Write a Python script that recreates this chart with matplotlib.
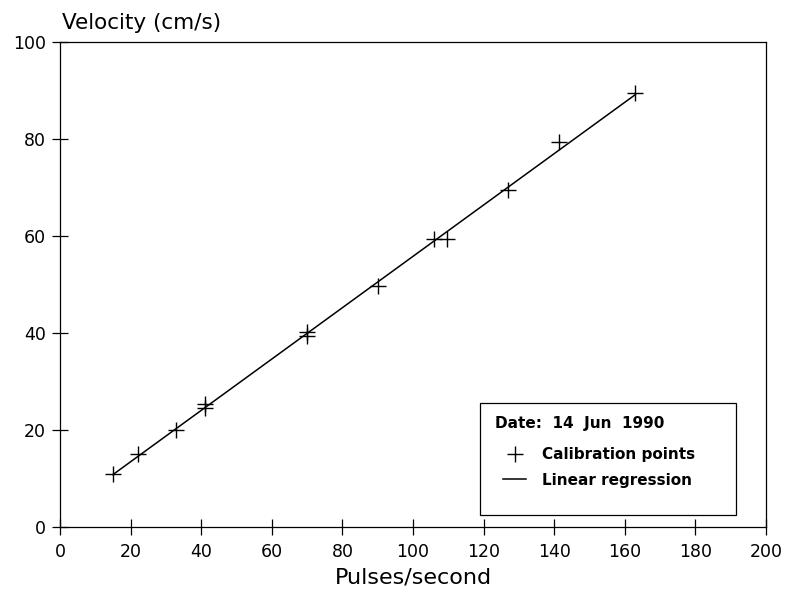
import numpy as np
import matplotlib
matplotlib.use('Agg')
import matplotlib.pyplot as plt
from matplotlib.patches import Rectangle

plt.rcParams['font.family'] = ['DejaVu Sans']

# calibration points
pulses = [15, 22, 33, 41, 41, 70, 70, 90, 106, 109.5, 127, 141.5, 163]
velocity = [11, 15, 20, 24.5, 25.3, 39.3, 40.2, 49.7, 59.4, 59.4, 69.4, 79.4, 89.4]
x_ticks = [0, 20, 40, 60, 80, 100, 120, 140, 160, 180, 200]
y_ticks = [0, 20, 40, 60, 80, 100]

# linear regression through the points
slope, intercept = np.polyfit(pulses, velocity, 1)
fit_x = np.array([min(pulses), max(pulses)])
fit_y = slope * fit_x + intercept

fig = plt.figure(figsize=(7.85, 5.95), dpi=100)
ax = fig.add_axes([60 / 785, 68 / 595, 706 / 785, 485 / 595])

ax.plot(pulses, velocity, linestyle='none', marker='+', markersize=11,
        markeredgewidth=1.0, color='black', label='Calibration points')
ax.plot(fit_x, fit_y, color='black', linewidth=1.1, label='Linear regression')

ax.set_xlim(0, 200)
ax.set_ylim(0, 100)
ax.set_xticks(x_ticks)
ax.set_yticks(y_ticks)
ax.tick_params(axis='x', direction='inout', length=11, width=0.9, pad=6, labelsize=12.5)
ax.tick_params(axis='y', direction='inout', length=12, width=0.9, pad=4, labelsize=12.5)
for s in ax.spines.values():
    s.set_linewidth(0.9)

ax.set_xlabel('Pulses/second', fontsize=16, labelpad=5)
ax.text(0.003, 1.027, 'Velocity (cm/s)', transform=ax.transAxes,
        fontsize=15.5, ha='left', va='baseline')

# legend box drawn separately so its size matches the original
ax.add_patch(Rectangle((0.595, 0.025), 0.362, 0.231, transform=ax.transAxes,
                       facecolor='white', edgecolor='black', linewidth=0.9, zorder=4))
ax.text(0.616, 0.2144, 'Date:  14  Jun  1990', transform=ax.transAxes,
        fontsize=11, fontweight='bold', ha='left', va='center', zorder=5)
leg = ax.legend(loc='upper left', bbox_to_anchor=(0.628, 0.165),
                frameon=False, numpoints=1,
                prop={'size': 11, 'weight': 'bold'},
                handlelength=1.5, handletextpad=1.0, labelspacing=0.7,
                borderpad=0, borderaxespad=0)
leg.set_zorder(5)

fig.savefig('out.png', dpi=100)
